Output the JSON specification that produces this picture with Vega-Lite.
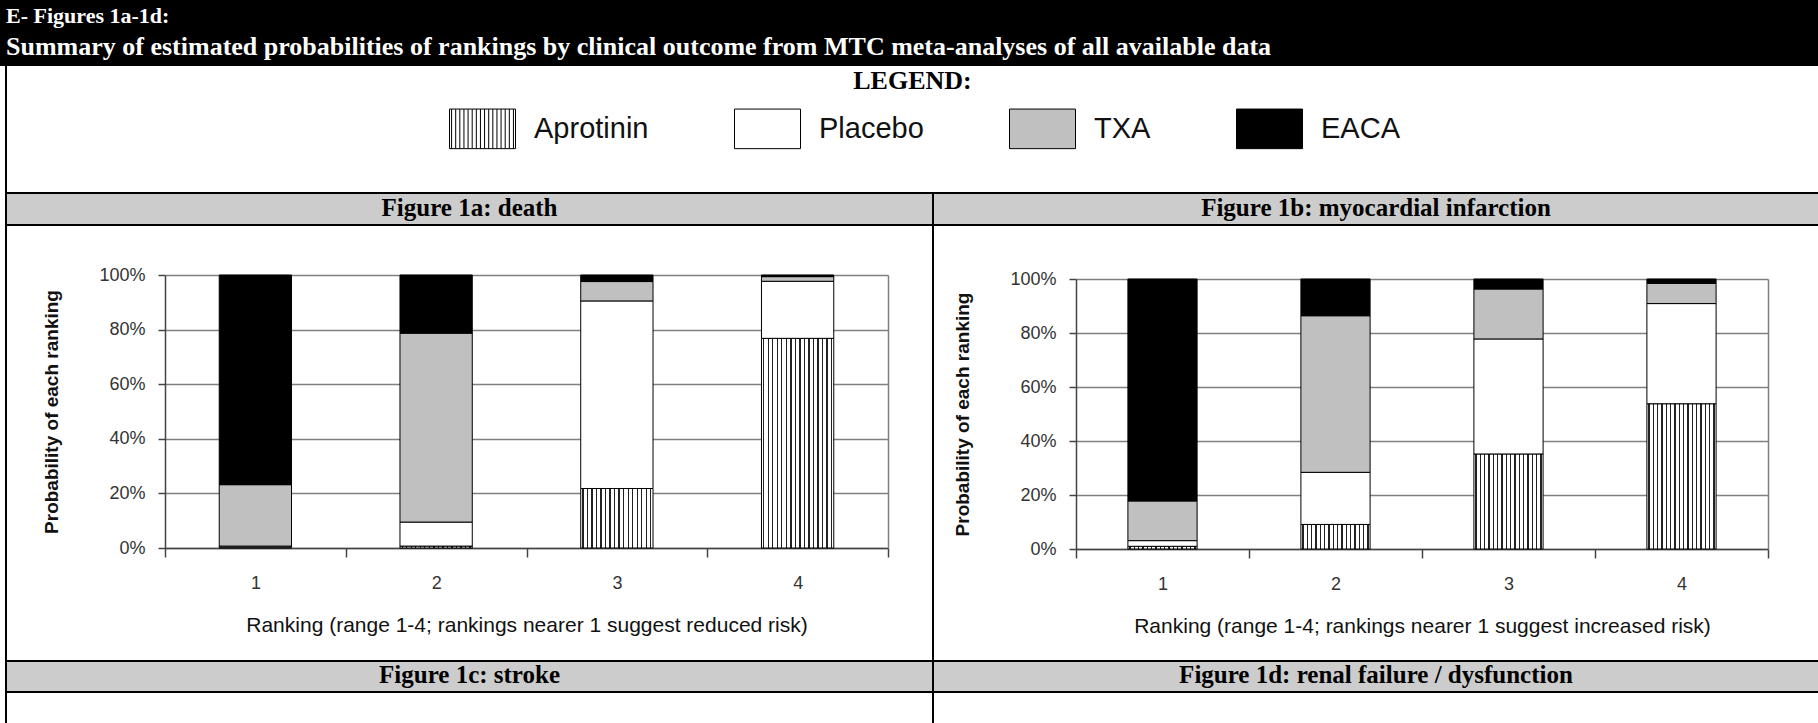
{
  "$schema": "https://vega.github.io/schema/vega-lite/v6.json",
  "padding": 0,
  "background": "white",
  "spacing": 0,
  "datasets": {
    "death": [
      {"rank": "1", "drug": "Aprotinin", "k": 1, "p": 0.3},
      {"rank": "1", "drug": "Placebo", "k": 2, "p": 0.4},
      {"rank": "1", "drug": "TXA", "k": 3, "p": 22.5},
      {"rank": "1", "drug": "EACA", "k": 4, "p": 76.8},
      {"rank": "2", "drug": "Aprotinin", "k": 1, "p": 0.7},
      {"rank": "2", "drug": "Placebo", "k": 2, "p": 8.8},
      {"rank": "2", "drug": "TXA", "k": 3, "p": 69.2},
      {"rank": "2", "drug": "EACA", "k": 4, "p": 21.3},
      {"rank": "3", "drug": "Aprotinin", "k": 1, "p": 21.8},
      {"rank": "3", "drug": "Placebo", "k": 2, "p": 68.7},
      {"rank": "3", "drug": "TXA", "k": 3, "p": 7.1},
      {"rank": "3", "drug": "EACA", "k": 4, "p": 2.4},
      {"rank": "4", "drug": "Aprotinin", "k": 1, "p": 76.8},
      {"rank": "4", "drug": "Placebo", "k": 2, "p": 20.9},
      {"rank": "4", "drug": "TXA", "k": 3, "p": 1.7},
      {"rank": "4", "drug": "EACA", "k": 4, "p": 0.6}
    ],
    "mi": [
      {"rank": "1", "drug": "Aprotinin", "k": 1, "p": 1.0},
      {"rank": "1", "drug": "Placebo", "k": 2, "p": 2.1},
      {"rank": "1", "drug": "TXA", "k": 3, "p": 14.7},
      {"rank": "1", "drug": "EACA", "k": 4, "p": 82.2},
      {"rank": "2", "drug": "Aprotinin", "k": 1, "p": 9.1},
      {"rank": "2", "drug": "Placebo", "k": 2, "p": 19.3},
      {"rank": "2", "drug": "TXA", "k": 3, "p": 58.0},
      {"rank": "2", "drug": "EACA", "k": 4, "p": 13.6},
      {"rank": "3", "drug": "Aprotinin", "k": 1, "p": 35.2},
      {"rank": "3", "drug": "Placebo", "k": 2, "p": 42.6},
      {"rank": "3", "drug": "TXA", "k": 3, "p": 18.5},
      {"rank": "3", "drug": "EACA", "k": 4, "p": 3.7},
      {"rank": "4", "drug": "Aprotinin", "k": 1, "p": 53.8},
      {"rank": "4", "drug": "Placebo", "k": 2, "p": 37.1},
      {"rank": "4", "drug": "TXA", "k": 3, "p": 7.5},
      {"rank": "4", "drug": "EACA", "k": 4, "p": 1.6}
    ]
  },
  "vconcat": [
    {
      "width": 1818,
      "height": 66,
      "view": {"fill": "#000000", "stroke": null},
      "data": {"values": []},
      "mark": "point",
      "title": {
        "text": "E- Figures 1a-1d:",
        "subtitle": "Summary of estimated probabilities of rankings by clinical outcome from MTC meta-analyses of all available data",
        "anchor": "start",
        "frame": "group",
        "offset": -61,
        "dx": 6,
        "color": "#ffffff",
        "subtitleColor": "#ffffff",
        "font": "Liberation Serif",
        "subtitleFont": "Liberation Serif",
        "fontSize": 22,
        "subtitleFontSize": 26,
        "fontWeight": "bold",
        "subtitleFontWeight": "bold",
        "subtitlePadding": 6
      }
    },
    {
      "hconcat": [
        {"width": 5, "height": 126, "data": {"values": []}, "mark": "point"},
        {"width": 2, "height": 126, "view": {"fill": "#000000", "stroke": null}, "data": {"values": []}, "mark": "point"},
        {
          "width": 1811,
          "height": 126,
          "view": {"fill": "#ffffff", "stroke": null},
          "data": {"values": []},
          "mark": "point",
          "title": {"text": "LEGEND:", "anchor": "middle", "frame": "group", "offset": -28, "font": "Liberation Serif", "fontSize": 26, "fontWeight": "bold", "color": "#000000"}
        }
      ],
      "spacing": 0,
      "bounds": "flush"
    },
    {
      "hconcat": [
        {"width": 5, "height": 2, "data": {"values": []}, "mark": "point"},
        {"width": 1813, "height": 2, "view": {"fill": "#000000", "stroke": null}, "data": {"values": []}, "mark": "point"}
      ],
      "spacing": 0,
      "bounds": "flush"
    },
    {
      "hconcat": [
        {"width": 5, "height": 30, "data": {"values": []}, "mark": "point"},
        {"width": 2, "height": 30, "view": {"fill": "#000000", "stroke": null}, "data": {"values": []}, "mark": "point"},
        {
          "width": 925,
          "height": 30,
          "view": {"fill": "#cccccc", "stroke": null},
          "data": {"values": []},
          "mark": "point",
          "title": {"text": "Figure 1a: death", "anchor": "middle", "frame": "group", "offset": -27, "font": "Liberation Serif", "fontSize": 25, "fontWeight": "bold", "color": "#000000"}
        },
        {"width": 2, "height": 30, "view": {"fill": "#000000", "stroke": null}, "data": {"values": []}, "mark": "point"},
        {
          "width": 884,
          "height": 30,
          "view": {"fill": "#cccccc", "stroke": null},
          "data": {"values": []},
          "mark": "point",
          "title": {"text": "Figure 1b: myocardial infarction", "anchor": "middle", "frame": "group", "offset": -27, "font": "Liberation Serif", "fontSize": 25, "fontWeight": "bold", "color": "#000000"}
        }
      ],
      "spacing": 0,
      "bounds": "flush"
    },
    {
      "hconcat": [
        {"width": 5, "height": 2, "data": {"values": []}, "mark": "point"},
        {"width": 1813, "height": 2, "view": {"fill": "#000000", "stroke": null}, "data": {"values": []}, "mark": "point"}
      ],
      "spacing": 0,
      "bounds": "flush"
    },
    {
      "hconcat": [
        {"width": 5, "height": 434, "data": {"values": []}, "mark": "point"},
        {"width": 2, "height": 434, "view": {"fill": "#000000", "stroke": null}, "data": {"values": []}, "mark": "point"},
        {"width": 158, "height": 434, "data": {"values": []}, "mark": "point"},
        {
          "width": 723,
          "height": 322,
          "data": {"name": "death"},
          "layer": [
            {
              "mark": {"type": "bar", "stroke": "#000000", "strokeWidth": 1, "width": {"band": 0.4}},
              "encoding": {
                "x": {
                  "field": "rank",
                  "type": "ordinal",
                  "scale": {"paddingInner": 0, "paddingOuter": 0},
                  "axis": {
                    "title": "Ranking (range 1-4; rankings nearer 1 suggest reduced risk)",
                    "labelAngle": 0,
                    "tickBand": "extent",
                    "tickSize": 9,
                    "tickWidth": 1.5,
                    "tickColor": "#444444",
                    "domainColor": "#444444",
                    "domainWidth": 1.5,
                    "labelFontSize": 18,
                    "labelColor": "#333333",
                    "labelPadding": 17,
                    "titleFontSize": 21,
                    "titleFontWeight": "normal",
                    "titleColor": "#111111",
                    "titlePadding": 22,
                    "grid": false
                  }
                },
                "y": {
                  "field": "p",
                  "type": "quantitative",
                  "stack": "zero",
                  "scale": {"domain": [0, 100], "range": [322, 49], "nice": false},
                  "axis": {
                    "values": [0, 20, 40, 60, 80, 100],
                    "labelExpr": "datum.value + '%'",
                    "tickSize": 7,
                    "tickWidth": 1.5,
                    "tickColor": "#444444",
                    "domainColor": "#444444",
                    "domainWidth": 1.5,
                    "labelFontSize": 18,
                    "labelColor": "#333333",
                    "labelPadding": 13,
                    "gridColor": "#808080",
                    "gridWidth": 1.6,
                    "title": "Probability of each ranking",
                    "titleFontSize": 19,
                    "titleFontWeight": "bold",
                    "titleColor": "#111111",
                    "titlePadding": 37
                  }
                },
                "fill": {
                  "field": "drug",
                  "type": "nominal",
                  "scale": {"domain": ["Aprotinin", "Placebo", "TXA", "EACA"], "range": ["#ffffff", "#ffffff", "#c0c0c0", "#000000"]},
                  "condition": {
                    "test": "datum.drug === 'Aprotinin'",
                    "value": {"gradient": "linear", "x1": 0, "y1": 0, "x2": 1, "y2": 0, "stops": [
                      {"offset": 0, "color": "#ffffff"},
                      {"offset": 0.0222, "color": "#ffffff"}, {"offset": 0.0222, "color": "#222222"}, {"offset": 0.0403, "color": "#222222"}, {"offset": 0.0403, "color": "#ffffff"},
                      {"offset": 0.0847, "color": "#ffffff"}, {"offset": 0.0847, "color": "#222222"}, {"offset": 0.1028, "color": "#222222"}, {"offset": 0.1028, "color": "#ffffff"},
                      {"offset": 0.1472, "color": "#ffffff"}, {"offset": 0.1472, "color": "#222222"}, {"offset": 0.1653, "color": "#222222"}, {"offset": 0.1653, "color": "#ffffff"},
                      {"offset": 0.2097, "color": "#ffffff"}, {"offset": 0.2097, "color": "#222222"}, {"offset": 0.2278, "color": "#222222"}, {"offset": 0.2278, "color": "#ffffff"},
                      {"offset": 0.2722, "color": "#ffffff"}, {"offset": 0.2722, "color": "#222222"}, {"offset": 0.2903, "color": "#222222"}, {"offset": 0.2903, "color": "#ffffff"},
                      {"offset": 0.3347, "color": "#ffffff"}, {"offset": 0.3347, "color": "#222222"}, {"offset": 0.3528, "color": "#222222"}, {"offset": 0.3528, "color": "#ffffff"},
                      {"offset": 0.3972, "color": "#ffffff"}, {"offset": 0.3972, "color": "#222222"}, {"offset": 0.4153, "color": "#222222"}, {"offset": 0.4153, "color": "#ffffff"},
                      {"offset": 0.4597, "color": "#ffffff"}, {"offset": 0.4597, "color": "#222222"}, {"offset": 0.4778, "color": "#222222"}, {"offset": 0.4778, "color": "#ffffff"},
                      {"offset": 0.5222, "color": "#ffffff"}, {"offset": 0.5222, "color": "#222222"}, {"offset": 0.5403, "color": "#222222"}, {"offset": 0.5403, "color": "#ffffff"},
                      {"offset": 0.5847, "color": "#ffffff"}, {"offset": 0.5847, "color": "#222222"}, {"offset": 0.6028, "color": "#222222"}, {"offset": 0.6028, "color": "#ffffff"},
                      {"offset": 0.6472, "color": "#ffffff"}, {"offset": 0.6472, "color": "#222222"}, {"offset": 0.6653, "color": "#222222"}, {"offset": 0.6653, "color": "#ffffff"},
                      {"offset": 0.7097, "color": "#ffffff"}, {"offset": 0.7097, "color": "#222222"}, {"offset": 0.7278, "color": "#222222"}, {"offset": 0.7278, "color": "#ffffff"},
                      {"offset": 0.7722, "color": "#ffffff"}, {"offset": 0.7722, "color": "#222222"}, {"offset": 0.7903, "color": "#222222"}, {"offset": 0.7903, "color": "#ffffff"},
                      {"offset": 0.8347, "color": "#ffffff"}, {"offset": 0.8347, "color": "#222222"}, {"offset": 0.8528, "color": "#222222"}, {"offset": 0.8528, "color": "#ffffff"},
                      {"offset": 0.8972, "color": "#ffffff"}, {"offset": 0.8972, "color": "#222222"}, {"offset": 0.9153, "color": "#222222"}, {"offset": 0.9153, "color": "#ffffff"},
                      {"offset": 0.9597, "color": "#ffffff"}, {"offset": 0.9597, "color": "#222222"}, {"offset": 0.9778, "color": "#222222"}, {"offset": 0.9778, "color": "#ffffff"},
                      {"offset": 1, "color": "#ffffff"}
                    ]}
                  },
                  "legend": {
                    "orient": "none", "legendX": 449, "legendY": 95, "direction": "horizontal", "title": null, "padding": 0,
                    "symbolSize": 4356, "symbolStrokeColor": "#000000", "symbolStrokeWidth": 1, "symbolOpacity": 1,
                    "labelFont": "Liberation Sans", "labelFontSize": 29, "labelColor": "#111111", "labelOffset": 18,
                    "columnPadding": 83, "labelLimit": 400,
                    "encoding": {"symbols": {"stroke": {"value": "#000000"}, "strokeWidth": {"value": 1}}}
                  }
                },
                "order": {"field": "k", "type": "quantitative"}
              }
            },
            {
              "data": {"values": []},
              "mark": {"type": "point", "filled": true, "stroke": "#000000", "strokeWidth": 1},
              "encoding": {
                "y": {"datum": 100, "type": "quantitative", "axis": {"orient": "right", "labels": false, "ticks": false, "title": null, "grid": false, "domainColor": "#808080", "domainWidth": 1.5}},
                "fill": {
                  "field": "drug",
                  "type": "nominal",
                  "scale": {"domain": ["Aprotinin", "Placebo", "TXA", "EACA"], "range": ["#ffffff", "#ffffff", "#c0c0c0", "#000000"]},
                  "legend": {
                    "orient": "none", "legendX": 449, "legendY": 95, "direction": "horizontal", "title": null, "padding": 0,
                    "symbolSize": 4356, "symbolStrokeColor": "#000000", "symbolStrokeWidth": 1, "symbolOpacity": 1,
                    "labelFont": "Liberation Sans", "labelFontSize": 29, "labelColor": "#111111", "labelOffset": 18,
                    "columnPadding": 83, "labelLimit": 400,
                    "encoding": {"symbols": {"stroke": {"value": "#000000"}, "strokeWidth": {"value": 1}}}
                  }
                },
                "shape": {
                  "field": "drug",
                  "type": "nominal",
                  "scale": {
                    "domain": ["Aprotinin", "Placebo", "TXA", "EACA"],
                    "range": [
                      "M-1,-0.6H1V0.6H-1ZM-0.9375,-0.6V0.6M-0.8125,-0.6V0.6M-0.6875,-0.6V0.6M-0.5625,-0.6V0.6M-0.4375,-0.6V0.6M-0.3125,-0.6V0.6M-0.1875,-0.6V0.6M-0.0625,-0.6V0.6M0.0625,-0.6V0.6M0.1875,-0.6V0.6M0.3125,-0.6V0.6M0.4375,-0.6V0.6M0.5625,-0.6V0.6M0.6875,-0.6V0.6M0.8125,-0.6V0.6M0.9375,-0.6V0.6",
                      "M-1,-0.6H1V0.6H-1Z",
                      "M-1,-0.6H1V0.6H-1Z",
                      "M-1,-0.6H1V0.6H-1Z"
                    ]
                  },
                  "legend": {
                    "orient": "none", "legendX": 449, "legendY": 95, "direction": "horizontal", "title": null, "padding": 0,
                    "symbolSize": 4356, "symbolStrokeColor": "#000000", "symbolStrokeWidth": 1, "symbolOpacity": 1,
                    "labelFont": "Liberation Sans", "labelFontSize": 29, "labelColor": "#111111", "labelOffset": 18,
                    "columnPadding": 83, "labelLimit": 400,
                    "encoding": {"symbols": {"stroke": {"value": "#000000"}, "strokeWidth": {"value": 1}}}
                  }
                }
              }
            }
          ],
          "resolve": {"axis": {"y": "independent"}}
        },
        {"width": 44, "height": 434, "data": {"values": []}, "mark": "point"},
        {"width": 2, "height": 434, "view": {"fill": "#000000", "stroke": null}, "data": {"values": []}, "mark": "point"},
        {"width": 142, "height": 434, "data": {"values": []}, "mark": "point"},
        {
          "width": 692,
          "height": 323,
          "data": {"name": "mi"},
          "layer": [
            {
              "mark": {"type": "bar", "stroke": "#000000", "strokeWidth": 1, "width": {"band": 0.4}},
              "encoding": {
                "x": {
                  "field": "rank",
                  "type": "ordinal",
                  "scale": {"paddingInner": 0, "paddingOuter": 0},
                  "axis": {
                    "title": "Ranking (range 1-4; rankings nearer 1 suggest increased risk)",
                    "labelAngle": 0,
                    "tickBand": "extent",
                    "tickSize": 9,
                    "tickWidth": 1.5,
                    "tickColor": "#444444",
                    "domainColor": "#444444",
                    "domainWidth": 1.5,
                    "labelFontSize": 18,
                    "labelColor": "#333333",
                    "labelPadding": 17,
                    "titleFontSize": 21,
                    "titleFontWeight": "normal",
                    "titleColor": "#111111",
                    "titlePadding": 22,
                    "grid": false
                  }
                },
                "y": {
                  "field": "p",
                  "type": "quantitative",
                  "stack": "zero",
                  "scale": {"domain": [0, 100], "range": [323, 53], "nice": false},
                  "axis": {
                    "values": [0, 20, 40, 60, 80, 100],
                    "labelExpr": "datum.value + '%'",
                    "tickSize": 7,
                    "tickWidth": 1.5,
                    "tickColor": "#444444",
                    "domainColor": "#444444",
                    "domainWidth": 1.5,
                    "labelFontSize": 18,
                    "labelColor": "#333333",
                    "labelPadding": 13,
                    "gridColor": "#808080",
                    "gridWidth": 1.6,
                    "title": "Probability of each ranking",
                    "titleFontSize": 19,
                    "titleFontWeight": "bold",
                    "titleColor": "#111111",
                    "titlePadding": 37
                  }
                },
                "fill": {
                  "field": "drug",
                  "type": "nominal",
                  "scale": {"domain": ["Aprotinin", "Placebo", "TXA", "EACA"], "range": ["#ffffff", "#ffffff", "#c0c0c0", "#000000"]},
                  "condition": {
                    "test": "datum.drug === 'Aprotinin'",
                    "value": {"gradient": "linear", "x1": 0, "y1": 0, "x2": 1, "y2": 0, "stops": [
                      {"offset": 0, "color": "#ffffff"},
                      {"offset": 0.0222, "color": "#ffffff"}, {"offset": 0.0222, "color": "#222222"}, {"offset": 0.0403, "color": "#222222"}, {"offset": 0.0403, "color": "#ffffff"},
                      {"offset": 0.0847, "color": "#ffffff"}, {"offset": 0.0847, "color": "#222222"}, {"offset": 0.1028, "color": "#222222"}, {"offset": 0.1028, "color": "#ffffff"},
                      {"offset": 0.1472, "color": "#ffffff"}, {"offset": 0.1472, "color": "#222222"}, {"offset": 0.1653, "color": "#222222"}, {"offset": 0.1653, "color": "#ffffff"},
                      {"offset": 0.2097, "color": "#ffffff"}, {"offset": 0.2097, "color": "#222222"}, {"offset": 0.2278, "color": "#222222"}, {"offset": 0.2278, "color": "#ffffff"},
                      {"offset": 0.2722, "color": "#ffffff"}, {"offset": 0.2722, "color": "#222222"}, {"offset": 0.2903, "color": "#222222"}, {"offset": 0.2903, "color": "#ffffff"},
                      {"offset": 0.3347, "color": "#ffffff"}, {"offset": 0.3347, "color": "#222222"}, {"offset": 0.3528, "color": "#222222"}, {"offset": 0.3528, "color": "#ffffff"},
                      {"offset": 0.3972, "color": "#ffffff"}, {"offset": 0.3972, "color": "#222222"}, {"offset": 0.4153, "color": "#222222"}, {"offset": 0.4153, "color": "#ffffff"},
                      {"offset": 0.4597, "color": "#ffffff"}, {"offset": 0.4597, "color": "#222222"}, {"offset": 0.4778, "color": "#222222"}, {"offset": 0.4778, "color": "#ffffff"},
                      {"offset": 0.5222, "color": "#ffffff"}, {"offset": 0.5222, "color": "#222222"}, {"offset": 0.5403, "color": "#222222"}, {"offset": 0.5403, "color": "#ffffff"},
                      {"offset": 0.5847, "color": "#ffffff"}, {"offset": 0.5847, "color": "#222222"}, {"offset": 0.6028, "color": "#222222"}, {"offset": 0.6028, "color": "#ffffff"},
                      {"offset": 0.6472, "color": "#ffffff"}, {"offset": 0.6472, "color": "#222222"}, {"offset": 0.6653, "color": "#222222"}, {"offset": 0.6653, "color": "#ffffff"},
                      {"offset": 0.7097, "color": "#ffffff"}, {"offset": 0.7097, "color": "#222222"}, {"offset": 0.7278, "color": "#222222"}, {"offset": 0.7278, "color": "#ffffff"},
                      {"offset": 0.7722, "color": "#ffffff"}, {"offset": 0.7722, "color": "#222222"}, {"offset": 0.7903, "color": "#222222"}, {"offset": 0.7903, "color": "#ffffff"},
                      {"offset": 0.8347, "color": "#ffffff"}, {"offset": 0.8347, "color": "#222222"}, {"offset": 0.8528, "color": "#222222"}, {"offset": 0.8528, "color": "#ffffff"},
                      {"offset": 0.8972, "color": "#ffffff"}, {"offset": 0.8972, "color": "#222222"}, {"offset": 0.9153, "color": "#222222"}, {"offset": 0.9153, "color": "#ffffff"},
                      {"offset": 0.9597, "color": "#ffffff"}, {"offset": 0.9597, "color": "#222222"}, {"offset": 0.9778, "color": "#222222"}, {"offset": 0.9778, "color": "#ffffff"},
                      {"offset": 1, "color": "#ffffff"}
                    ]}
                  },
                  "legend": {
                    "orient": "none", "legendX": 449, "legendY": 95, "direction": "horizontal", "title": null, "padding": 0,
                    "symbolSize": 4356, "symbolStrokeColor": "#000000", "symbolStrokeWidth": 1, "symbolOpacity": 1,
                    "labelFont": "Liberation Sans", "labelFontSize": 29, "labelColor": "#111111", "labelOffset": 18,
                    "columnPadding": 83, "labelLimit": 400,
                    "encoding": {"symbols": {"stroke": {"value": "#000000"}, "strokeWidth": {"value": 1}}}
                  }
                },
                "order": {"field": "k", "type": "quantitative"}
              }
            },
            {
              "data": {"values": []},
              "mark": {"type": "point", "filled": true, "stroke": "#000000", "strokeWidth": 1},
              "encoding": {
                "y": {"datum": 100, "type": "quantitative", "axis": {"orient": "right", "labels": false, "ticks": false, "title": null, "grid": false, "domainColor": "#808080", "domainWidth": 1.5}},
                "fill": {
                  "field": "drug",
                  "type": "nominal",
                  "scale": {"domain": ["Aprotinin", "Placebo", "TXA", "EACA"], "range": ["#ffffff", "#ffffff", "#c0c0c0", "#000000"]},
                  "legend": {
                    "orient": "none", "legendX": 449, "legendY": 95, "direction": "horizontal", "title": null, "padding": 0,
                    "symbolSize": 4356, "symbolStrokeColor": "#000000", "symbolStrokeWidth": 1, "symbolOpacity": 1,
                    "labelFont": "Liberation Sans", "labelFontSize": 29, "labelColor": "#111111", "labelOffset": 18,
                    "columnPadding": 83, "labelLimit": 400,
                    "encoding": {"symbols": {"stroke": {"value": "#000000"}, "strokeWidth": {"value": 1}}}
                  }
                },
                "shape": {
                  "field": "drug",
                  "type": "nominal",
                  "scale": {
                    "domain": ["Aprotinin", "Placebo", "TXA", "EACA"],
                    "range": [
                      "M-1,-0.6H1V0.6H-1ZM-0.9375,-0.6V0.6M-0.8125,-0.6V0.6M-0.6875,-0.6V0.6M-0.5625,-0.6V0.6M-0.4375,-0.6V0.6M-0.3125,-0.6V0.6M-0.1875,-0.6V0.6M-0.0625,-0.6V0.6M0.0625,-0.6V0.6M0.1875,-0.6V0.6M0.3125,-0.6V0.6M0.4375,-0.6V0.6M0.5625,-0.6V0.6M0.6875,-0.6V0.6M0.8125,-0.6V0.6M0.9375,-0.6V0.6",
                      "M-1,-0.6H1V0.6H-1Z",
                      "M-1,-0.6H1V0.6H-1Z",
                      "M-1,-0.6H1V0.6H-1Z"
                    ]
                  },
                  "legend": {
                    "orient": "none", "legendX": 449, "legendY": 95, "direction": "horizontal", "title": null, "padding": 0,
                    "symbolSize": 4356, "symbolStrokeColor": "#000000", "symbolStrokeWidth": 1, "symbolOpacity": 1,
                    "labelFont": "Liberation Sans", "labelFontSize": 29, "labelColor": "#111111", "labelOffset": 18,
                    "columnPadding": 83, "labelLimit": 400,
                    "encoding": {"symbols": {"stroke": {"value": "#000000"}, "strokeWidth": {"value": 1}}}
                  }
                }
              }
            }
          ],
          "resolve": {"axis": {"y": "independent"}}
        },
        {"width": 50, "height": 434, "data": {"values": []}, "mark": "point"}
      ],
      "spacing": 0,
      "bounds": "flush"
    },
    {
      "hconcat": [
        {"width": 5, "height": 2, "data": {"values": []}, "mark": "point"},
        {"width": 1813, "height": 2, "view": {"fill": "#000000", "stroke": null}, "data": {"values": []}, "mark": "point"}
      ],
      "spacing": 0,
      "bounds": "flush"
    },
    {
      "hconcat": [
        {"width": 5, "height": 29, "data": {"values": []}, "mark": "point"},
        {"width": 2, "height": 29, "view": {"fill": "#000000", "stroke": null}, "data": {"values": []}, "mark": "point"},
        {
          "width": 925,
          "height": 29,
          "view": {"fill": "#cccccc", "stroke": null},
          "data": {"values": []},
          "mark": "point",
          "title": {"text": "Figure 1c: stroke", "anchor": "middle", "frame": "group", "offset": -26, "font": "Liberation Serif", "fontSize": 25, "fontWeight": "bold", "color": "#000000"}
        },
        {"width": 2, "height": 29, "view": {"fill": "#000000", "stroke": null}, "data": {"values": []}, "mark": "point"},
        {
          "width": 884,
          "height": 29,
          "view": {"fill": "#cccccc", "stroke": null},
          "data": {"values": []},
          "mark": "point",
          "title": {"text": "Figure 1d: renal failure / dysfunction", "anchor": "middle", "frame": "group", "offset": -26, "font": "Liberation Serif", "fontSize": 25, "fontWeight": "bold", "color": "#000000"}
        }
      ],
      "spacing": 0,
      "bounds": "flush"
    },
    {
      "hconcat": [
        {"width": 5, "height": 2, "data": {"values": []}, "mark": "point"},
        {"width": 1813, "height": 2, "view": {"fill": "#000000", "stroke": null}, "data": {"values": []}, "mark": "point"}
      ],
      "spacing": 0,
      "bounds": "flush"
    },
    {
      "hconcat": [
        {"width": 5, "height": 30, "data": {"values": []}, "mark": "point"},
        {"width": 2, "height": 30, "view": {"fill": "#000000", "stroke": null}, "data": {"values": []}, "mark": "point"},
        {"width": 925, "height": 30, "data": {"values": []}, "mark": "point"},
        {"width": 2, "height": 30, "view": {"fill": "#000000", "stroke": null}, "data": {"values": []}, "mark": "point"},
        {"width": 884, "height": 30, "data": {"values": []}, "mark": "point"}
      ],
      "spacing": 0,
      "bounds": "flush"
    }
  ],
  "config": {
    "view": {"stroke": null},
    "font": "Liberation Sans",
    "axis": {"labelFont": "Liberation Sans", "titleFont": "Liberation Sans"}
  }
}
